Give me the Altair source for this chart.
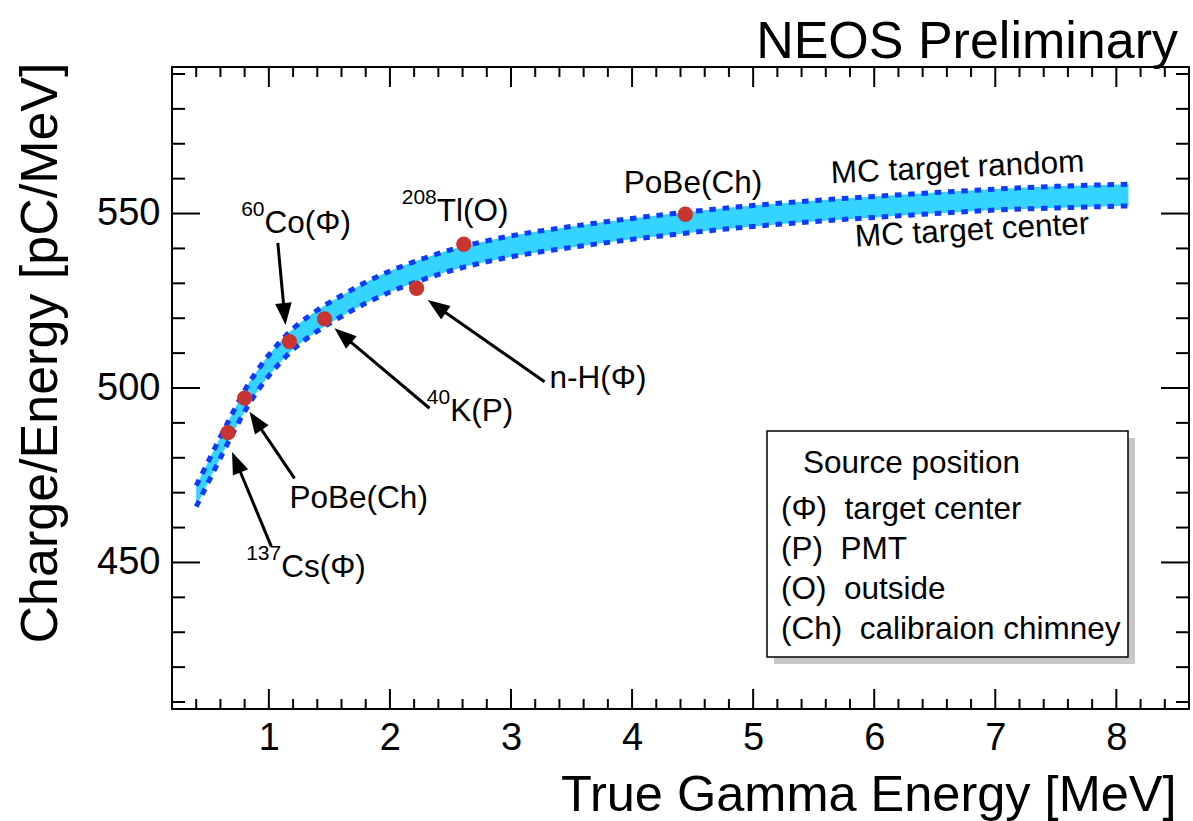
import math
import altair as alt
import pandas as pd

FONT = "Liberation Sans"

# ---------------------------------------------------------------- data
# Calibration sources: true gamma energy [MeV] and charge/energy [pC/MeV]
src_label = ["137Cs", "PoBe", "60Co", "40K", "n-H", "208Tl", "PoBe"]
src_energy = [0.662, 0.80, 1.17, 1.46, 2.22, 2.61, 4.44]
src_ratio = [487.2, 497.1, 513.3, 519.8, 528.6, 541.2, 549.8]

# MC expectation band: upper edge = target random, lower edge = target center
mc_energy = [0.40, 0.50, 0.60, 0.70, 0.80, 0.90, 1.00, 1.10, 1.20, 1.40, 1.60,
             1.80, 2.00, 2.25, 2.50, 2.75, 3.00, 3.50, 4.00, 4.50, 5.00, 5.50,
             6.00, 6.50, 7.00, 7.50, 8.10]
mc_random = [472.0, 479.0, 486.0, 492.8, 499.3, 504.8, 509.5, 513.5, 517.0, 522.3,
             526.5, 530.3, 533.5, 536.8, 539.6, 541.8, 543.6, 546.3, 548.6, 550.6,
             552.3, 553.7, 554.9, 556.0, 557.0, 557.8, 558.4]
mc_center = [466.0, 473.0, 480.0, 486.8, 493.3, 498.8, 503.5, 507.5, 511.0, 516.3,
             520.5, 524.3, 527.5, 530.8, 533.6, 535.8, 537.6, 540.3, 542.6, 544.6,
             546.3, 547.7, 548.9, 550.0, 551.0, 551.6, 552.2]

# axis ticks
x_major = [1, 2, 3, 4, 5, 6, 7, 8]
x_minor = [round(0.2 * i, 1) for i in range(2, 43) if i % 5 != 0]
y_major = [450, 500, 550]
y_minor = [v for v in range(410, 591, 10) if v % 50 != 0]

# source labels (main text + superscript mass number)
label_main = ["Co(Φ)", "Tl(O)", "PoBe(Ch)", "n-H(Φ)", "K(P)", "PoBe(Ch)", "Cs(Φ)"]
label_sup = ["60", "208", "", "", "40", "", "137"]
label_x = [0.964, 2.387, 3.932, 3.318, 2.498, 1.171, 1.102]
label_y = [544.5, 547.9, 556.0, 500.1, 490.6, 465.5, 445.9]

# arrows from labels to their sources (tail -> head)
arrow_x0 = [1.074, 1.019, 1.212, 2.327, 3.277]
arrow_y0 = [541.6, 454.7, 474.1, 494.2, 501.8]
arrow_x1 = [1.1375, 0.696, 0.840, 1.542, 2.313]
arrow_y1 = [518.05, 481.65, 493.2, 517.1, 525.2]

# band captions
mc_text = ["MC target random", "MC target center"]
mc_text_x = [5.645, 5.845]
mc_text_y = [558.7, 540.5]
mc_text_angle = [357.4, 356.8]

legend_title = "Source position"
legend_lines = ["(Φ)\u00a0\u00a0target center", "(P)\u00a0\u00a0PMT", "(O)\u00a0\u00a0outside",
                "(Ch)\u00a0\u00a0calibraion chimney"]

# ---------------------------------------------------------------- layout
W, H = 1017, 642
X_DOM = [0.2, 8.6]
Y_DOM = [408, 592]
px_x = W / (X_DOM[1] - X_DOM[0])
px_y = H / (Y_DOM[1] - Y_DOM[0])
TXT = 31.5

xscale = alt.Scale(domain=X_DOM, nice=False, zero=False)
yscale = alt.Scale(domain=Y_DOM, nice=False, zero=False)

xaxis = alt.Axis(values=x_major, ticks=False, domain=False, grid=False,
                 labelFont=FONT, labelFontSize=38, labelPadding=10, labelColor="black",
                 title="True Gamma Energy [MeV]", titleFont=FONT, titleFontSize=50.5,
                 titleFontWeight="normal", titleColor="black",
                 titleX=1004, titleY=101, titleAlign="right", titleBaseline="alphabetic")
yaxis = alt.Axis(values=y_major, ticks=False, domain=False, grid=False,
                 labelFont=FONT, labelFontSize=38, labelPadding=12, labelColor="black",
                 title="Charge/Energy [pC/MeV]", titleFont=FONT, titleFontSize=52,
                 titleFontWeight="normal", titleColor="black", titleAngle=270,
                 titleX=-116, titleY=-5, titleAlign="right", titleBaseline="alphabetic")


def X(f):
    return alt.X(f, type="quantitative", scale=xscale, axis=xaxis)


def Y(f):
    return alt.Y(f, type="quantitative", scale=yscale, axis=yaxis)


one = pd.DataFrame({"k": [0]})

# ---------------------------------------------------------------- band
band_df = pd.DataFrame({"E": mc_energy, "random": mc_random, "center": mc_center})

band = alt.Chart(band_df).mark_area(color="#35d3ff", interpolate="monotone").encode(
    x=X("E"), y=Y("center"), y2="random")

dot_style = dict(color="#0b3bff", strokeWidth=5, strokeDash=[6.5, 6.8],
                 strokeCap="butt", interpolate="monotone")
line_random = alt.Chart(band_df).mark_line(**dot_style).encode(x=X("E"), y=Y("random"))
line_center = alt.Chart(band_df).mark_line(**dot_style).encode(x=X("E"), y=Y("center"))

# ---------------------------------------------------------------- sources
src_df = pd.DataFrame({"source": src_label, "E": src_energy, "ratio": src_ratio})
points = alt.Chart(src_df).mark_circle(size=235, color="#c83530", opacity=1).encode(
    x=X("E"), y=Y("ratio"))

# ---------------------------------------------------------------- arrows
HEAD = 22.0
rows = []
for x0, y0, x1, y1 in zip(arrow_x0, arrow_y0, arrow_x1, arrow_y1):
    dxp = (x1 - x0) * px_x
    dyp = -(y1 - y0) * px_y
    L = math.hypot(dxp, dyp)
    ux, uy = dxp / L, dyp / L
    ang = math.degrees(math.atan2(dxp, -dyp)) % 360
    back = HEAD * 0.8
    xe = x1 - back * ux / px_x
    ye = y1 + back * uy / px_y
    rows.append({"x0": x0, "y0": y0, "xe": xe, "ye": ye, "x1": x1, "y1": y1, "ang": ang})
arrow_df = pd.DataFrame(rows)

arrow_lines = alt.Chart(arrow_df).mark_rule(color="black", strokeWidth=3).encode(
    x=X("x0"), y=Y("y0"), x2="xe", y2="ye")
arrow_heads = alt.Chart(arrow_df).mark_point(
    shape="M0,0L-0.75,2L0.75,2Z", filled=True, size=HEAD * HEAD, color="black",
    opacity=1, strokeWidth=0).encode(
    x=X("x1"), y=Y("y1"), angle=alt.Angle("ang:Q", scale=None))

# ---------------------------------------------------------------- labels
lab_df = pd.DataFrame({"t": label_main, "s": label_sup, "x": label_x, "y": label_y})
labels = alt.Chart(lab_df).mark_text(
    align="left", baseline="alphabetic", font=FONT, fontSize=TXT, color="black").encode(
    x=X("x"), y=Y("y"), text="t:N")
sups = alt.Chart(lab_df[lab_df["s"] != ""]).mark_text(
    align="right", baseline="alphabetic", font=FONT, fontSize=21, dy=-17,
    color="black").encode(x=X("x"), y=Y("y"), text="s:N")

mc_df = pd.DataFrame({"t": mc_text, "x": mc_text_x, "y": mc_text_y, "a": mc_text_angle})
mc_labels = alt.Chart(mc_df).mark_text(
    align="left", baseline="alphabetic", font=FONT, fontSize=TXT, color="black").encode(
    x=X("x"), y=Y("y"), text="t:N", angle=alt.Angle("a:Q", scale=None))

# ---------------------------------------------------------------- frame ticks


def xticks(values, length):
    df = pd.DataFrame({"t": values})
    bottom = alt.Chart(df).mark_rule(color="black", strokeWidth=2).encode(
        x=X("t"), y=alt.value(H), y2=alt.value(H - length))
    top = alt.Chart(df).mark_rule(color="black", strokeWidth=2).encode(
        x=X("t"), y=alt.value(0), y2=alt.value(length))
    return [bottom, top]


def yticks(values, length):
    df = pd.DataFrame({"t": values})
    left = alt.Chart(df).mark_rule(color="black", strokeWidth=2).encode(
        y=Y("t"), x=alt.value(0), x2=alt.value(length))
    right = alt.Chart(df).mark_rule(color="black", strokeWidth=2).encode(
        y=Y("t"), x=alt.value(W), x2=alt.value(W - length))
    return [left, right]


ticks = xticks(x_major, 20) + xticks(x_minor, 10) + yticks(y_major, 28) + yticks(y_minor, 13)

# ---------------------------------------------------------------- source legend box
BX0, BX1, BY0, BY1 = 595, 956, 364, 590
shadow = alt.Chart(one).mark_rect(color="#c8c8c8").encode(
    x=alt.value(BX0 + 7), x2=alt.value(BX1 + 7), y=alt.value(BY0 + 7), y2=alt.value(BY1 + 7))
box = alt.Chart(one).mark_rect(fill="white", stroke="black", strokeWidth=1.5).encode(
    x=alt.value(BX0), x2=alt.value(BX1), y=alt.value(BY0), y2=alt.value(BY1))

legend_texts = [alt.Chart(one).mark_text(
    align="left", baseline="alphabetic", font=FONT, fontSize=TXT, color="black").encode(
    x=alt.value(631), y=alt.value(406), text=alt.value(legend_title))]
for i, line in enumerate(legend_lines):
    legend_texts.append(alt.Chart(one).mark_text(
        align="left", baseline="alphabetic", font=FONT, fontSize=TXT, color="black").encode(
        x=alt.value(609), y=alt.value(452 + 40 * i), text=alt.value(line)))

header = alt.Chart(one).mark_text(
    align="right", baseline="alphabetic", font=FONT, fontSize=52, color="black").encode(
    x=alt.value(1006), y=alt.value(-9), text=alt.value("NEOS Preliminary"))

chart = alt.layer(
    band, line_random, line_center,
    arrow_lines, arrow_heads, points,
    labels, sups, mc_labels,
    *ticks,
    shadow, box, *legend_texts,
    header,
).properties(
    width=W, height=H,
    padding={"left": 172, "top": 67, "right": 4, "bottom": 112},
    autosize=alt.AutoSizeParams(type="none"),
    background="white",
).configure_view(stroke="black", strokeWidth=2)

chart.save("out.html", embed_options={"renderer": "svg", "actions": False})
